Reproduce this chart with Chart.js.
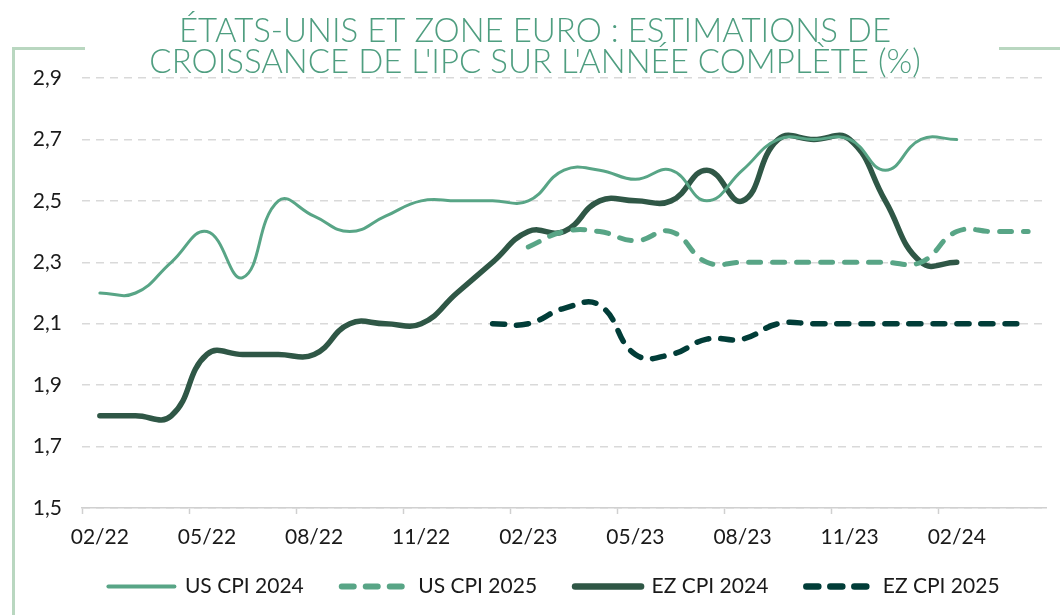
<!DOCTYPE html>
<html lang="fr">
<head>
<meta charset="utf-8">
<title>IPC - estimations</title>
<script src="https://cdn.jsdelivr.net/npm/chart.js@4.4.1/dist/chart.umd.min.js"></script>
<style>
    html, body { margin: 0; padding: 0; background: #fff; }
    .wrap { position: relative; width: 1060px; height: 615px; }
    .frame { position: absolute; background: #b9d7c0; }
</style>
</head>
<body>
<div class="wrap">
    <div class="frame" style="left:12px; top:47px; width:3px; height:568px;"></div>
    <div class="frame" style="left:12px; top:47px; width:73px; height:3px;"></div>
    <div class="frame" style="left:999px; top:47px; width:61px; height:3px;"></div>
    <canvas id="cpiChart" width="1060" height="615"></canvas>
</div>
<script>
// data
const months = ['02/22', '03/22', '04/22', '05/22', '06/22', '07/22', '08/22', '09/22', '10/22',
    '11/22', '12/22', '01/23', '02/23', '03/23', '04/23', '05/23', '06/23', '07/23', '08/23',
    '09/23', '10/23', '11/23', '12/23', '01/24', '02/24', '03/24', '04/24'];

const usCpi2024 = [2.2, 2.2, 2.3, 2.4, 2.25, 2.5, 2.45, 2.4, 2.45, 2.5, 2.5, 2.5, 2.5,
    2.6, 2.6, 2.57, 2.6, 2.5, 2.6, 2.7, 2.7, 2.7, 2.6, 2.7, 2.7, null, null];

const usCpi2025 = [null, null, null, null, null, null, null, null, null, null, null, null,
    2.35, 2.4, 2.4, 2.37, 2.4, 2.3, 2.3, 2.3, 2.3, 2.3, 2.3, 2.3, 2.4, 2.4, 2.4];

const ezCpi2024 = [1.8, 1.8, 1.8, 2.0, 2.0, 2.0, 2.0, 2.1, 2.1, 2.1, 2.2, 2.3, 2.4,
    2.4, 2.5, 2.5, 2.5, 2.6, 2.5, 2.7, 2.7, 2.7, 2.5, 2.3, 2.3, null, null];

const ezCpi2025 = [null, null, null, null, null, null, null, null, null, null, null,
    2.1, 2.1, 2.15, 2.16, 2.0, 2.0, 2.05, 2.05, 2.1, 2.1, 2.1, 2.1, 2.1, 2.1, 2.1, 2.1];

const titleLines = ["ÉTATS-UNIS ET ZONE EURO : ESTIMATIONS DE",
    "CROISSANCE DE L'IPC SUR L'ANNÉE COMPLÈTE (%)"];

document.addEventListener('DOMContentLoaded', function() {
    const lightGreen = '#58a586';
    const darkGreen = '#2f5746';
    const darkTeal = '#013d38';
    const textColor = '#1a1a1a';

    function line(label, data, color, width, dash) {
        return {
            label: label,
            data: data,
            borderColor: color,
            backgroundColor: color,
            borderWidth: width,
            borderDash: dash || [],
            borderCapStyle: 'round',
            borderJoinStyle: 'round',
            tension: 0.45,
            pointRadius: 0,
            pointHoverRadius: 0,
            fill: false
        };
    }

    // small layout nudges: legend and title sit right of centre in the original,
    // and the x labels need room below the 30px axis box (they are clipped to it)
    const layoutNudge = {
        id: 'layoutNudge',
        afterLayout: function(chart) {
            chart.legend.left += 31;
            chart.legend.right += 31;
            chart.titleBlock.left += 12;
            chart.titleBlock.right += 12;
            const x = chart.scales.x;
            x.bottom += 16;
            x.height += 16;
        }
    };

    new Chart(document.getElementById('cpiChart'), {
        type: 'line',
        data: {
            labels: months,
            datasets: [
                line('US CPI 2024', usCpi2024, lightGreen, 3),
                line('US CPI 2025', usCpi2025, lightGreen, 5, [12, 12]),
                line('EZ CPI 2024', ezCpi2024, darkGreen, 5.5),
                line('EZ CPI 2025', ezCpi2025, darkTeal, 5.5, [12, 12])
            ]
        },
        plugins: [layoutNudge],
        options: {
            responsive: false,
            animation: false,
            layout: {
                padding: { left: 0, right: 14, top: 0, bottom: 8 }
            },
            plugins: {
                title: {
                    display: true,
                    text: titleLines,
                    color: '#4f9e80',
                    font: { family: 'Lato', size: 33, weight: '300', lineHeight: '31px' },
                    padding: { top: 16, bottom: 0 }
                },
                legend: {
                    position: 'bottom',
                    labels: {
                        usePointStyle: true,
                        pointStyle: 'line',
                        pointStyleWidth: 66,
                        padding: 38,
                        color: textColor,
                        font: { family: 'Lato', size: 21 },
                        generateLabels: function(chart) {
                            const items = Chart.defaults.plugins.legend.labels.generateLabels(chart);
                            items.forEach(function(item) {
                                const ds = chart.data.datasets[item.datasetIndex];
                                item.lineDash = ds.borderDash;
                                item.lineWidth = ds.borderWidth + 1;
                                item.lineCap = 'round';
                                item.strokeStyle = ds.borderColor;
                            });
                            return items;
                        }
                    }
                },
                tooltip: { enabled: false }
            },
            scales: {
                x: {
                    offset: true,
                    afterFit: function(scale) { scale.height = 30; },
                    grid: {
                        offset: true,
                        drawOnChartArea: false,
                        drawTicks: true,
                        tickLength: 6,
                        tickWidth: 1.5,
                        tickColor: function(ctx) {
                            return ctx.index % 3 === 0 ? '#d0d0d0' : 'rgba(0,0,0,0)';
                        }
                    },
                    border: { display: true, color: '#d0d0d0', width: 1.5 },
                    ticks: {
                        autoSkip: false,
                        maxRotation: 0,
                        padding: 11,
                        color: textColor,
                        font: { family: 'Lato', size: 21 },
                        callback: function(value, index) {
                            return index % 3 === 0 ? this.getLabelForValue(value) : '';
                        }
                    }
                },
                y: {
                    min: 1.5,
                    max: 2.9,
                    afterFit: function(scale) { scale.width = 82; },
                    grid: {
                        drawTicks: false,
                        color: '#d9d9d9',
                        lineWidth: 1.5
                    },
                    border: { display: false, dash: [8, 6] },
                    ticks: {
                        stepSize: 0.2,
                        padding: 20,
                        color: textColor,
                        font: { family: 'Lato', size: 21 },
                        callback: function(value) {
                            return value.toFixed(1).replace('.', ',');
                        }
                    }
                }
            }
        }
    });
});
</script>
</body>
</html>
